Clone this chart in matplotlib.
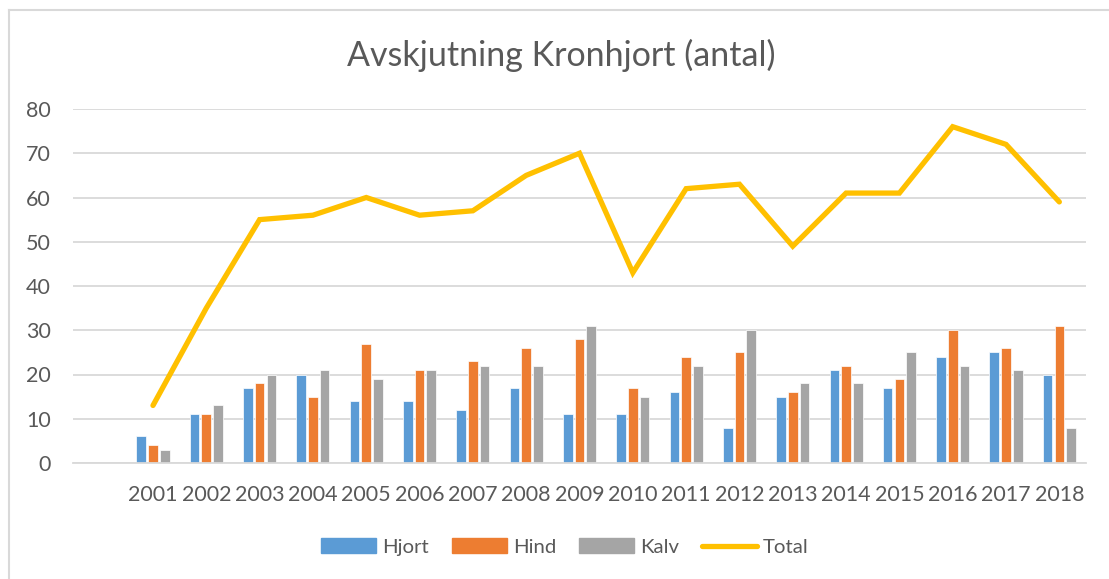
import numpy as np
import matplotlib
matplotlib.use("Agg")
import matplotlib.pyplot as plt
from matplotlib.lines import Line2D
from matplotlib.patches import Patch

# first category is empty in the original sheet
years = ["", "2001", "2002", "2003", "2004", "2005", "2006", "2007", "2008", "2009",
         "2010", "2011", "2012", "2013", "2014", "2015", "2016", "2017", "2018"]
hjort = [np.nan, 6, 11, 17, 20, 14, 14, 12, 17, 11, 11, 16, 8, 15, 21, 17, 24, 25, 20]
hind = [np.nan, 4, 11, 18, 15, 27, 21, 23, 26, 28, 17, 24, 25, 16, 22, 19, 30, 26, 31]
kalv = [np.nan, 3, 13, 20, 21, 19, 21, 22, 22, 31, 15, 22, 30, 18, 18, 25, 22, 21, 8]
total = [np.nan, 13, 35, 55, 56, 60, 56, 57, 65, 70, 43, 62, 63, 49, 61, 61, 76, 72, 59]

BLUE = "#5B9BD5"
ORANGE = "#ED7D31"
GRAY = "#A5A5A5"
YELLOW = "#FFC000"
TEXT = "#595959"
GRID = "#D9D9D9"

plt.rcParams['font.family'] = ['Lato', 'DejaVu Sans']

W, H = 1109, 579
fig = plt.figure(figsize=(W / 100, H / 100), dpi=100)
ax = fig.add_axes([73 / W, 1 - 463 / H, (1086 - 73) / W, (463 - 109) / H])

x = np.arange(len(years))
bw = 0.18
step = 0.22
ax.bar(x - step, hjort, bw, color=BLUE, edgecolor="white", linewidth=0.5, zorder=2)
ax.bar(x, hind, bw, color=ORANGE, edgecolor="white", linewidth=0.5, zorder=2)
ax.bar(x + step, kalv, bw, color=GRAY, edgecolor="white", linewidth=0.5, zorder=2)
ax.plot(x, total, color=YELLOW, linewidth=3.8, solid_joinstyle="miter",
        solid_capstyle="round", zorder=3)

ax.set_xlim(-0.5, len(years) - 0.5)
ax.set_ylim(0, 80)
ax.set_yticks(range(0, 81, 10))
ax.set_xticks(x)
ax.set_xticklabels(years)
ax.tick_params(axis="both", length=0, labelsize=15.5, colors=TEXT)
ax.tick_params(axis="x", pad=16)
ax.tick_params(axis="y", pad=16)
ax.grid(axis="y", color=GRID, linewidth=1.3, zorder=0)
for s in ["top", "right", "left"]:
    ax.spines[s].set_visible(False)
ax.spines["bottom"].set_color(GRID)
ax.spines["bottom"].set_linewidth(1.3)
ax.set_axisbelow(True)

fig.text(561 / W, 1 - 55 / H, "Avskjutning Kronhjort (antal)", ha="center", va="center",
         fontsize=24.5, color=TEXT)

handles = [Patch(color=BLUE), Patch(color=ORANGE), Patch(color=GRAY),
           Line2D([], [], color=YELLOW, linewidth=3.8, solid_capstyle="round")]
fig.legend(handles, ["Hjort", "Hind", "Kalv", "Total"], loc="center",
           bbox_to_anchor=(565 / W, 1 - 547 / H), ncol=4, frameon=False,
           fontsize=14.7, labelcolor=TEXT, handlelength=2.7, handleheight=0.7,
           handletextpad=0.3, columnspacing=1.1)

# chart frame, only top and left edges fall inside the picture
fig.add_artist(Line2D([9 / W, 9 / W], [0, 1 - 10 / H], color=GRID, linewidth=1.5))
fig.add_artist(Line2D([9 / W, 1], [1 - 10 / H, 1 - 10 / H], color=GRID, linewidth=1.5))

fig.savefig("out.png", dpi=100)
